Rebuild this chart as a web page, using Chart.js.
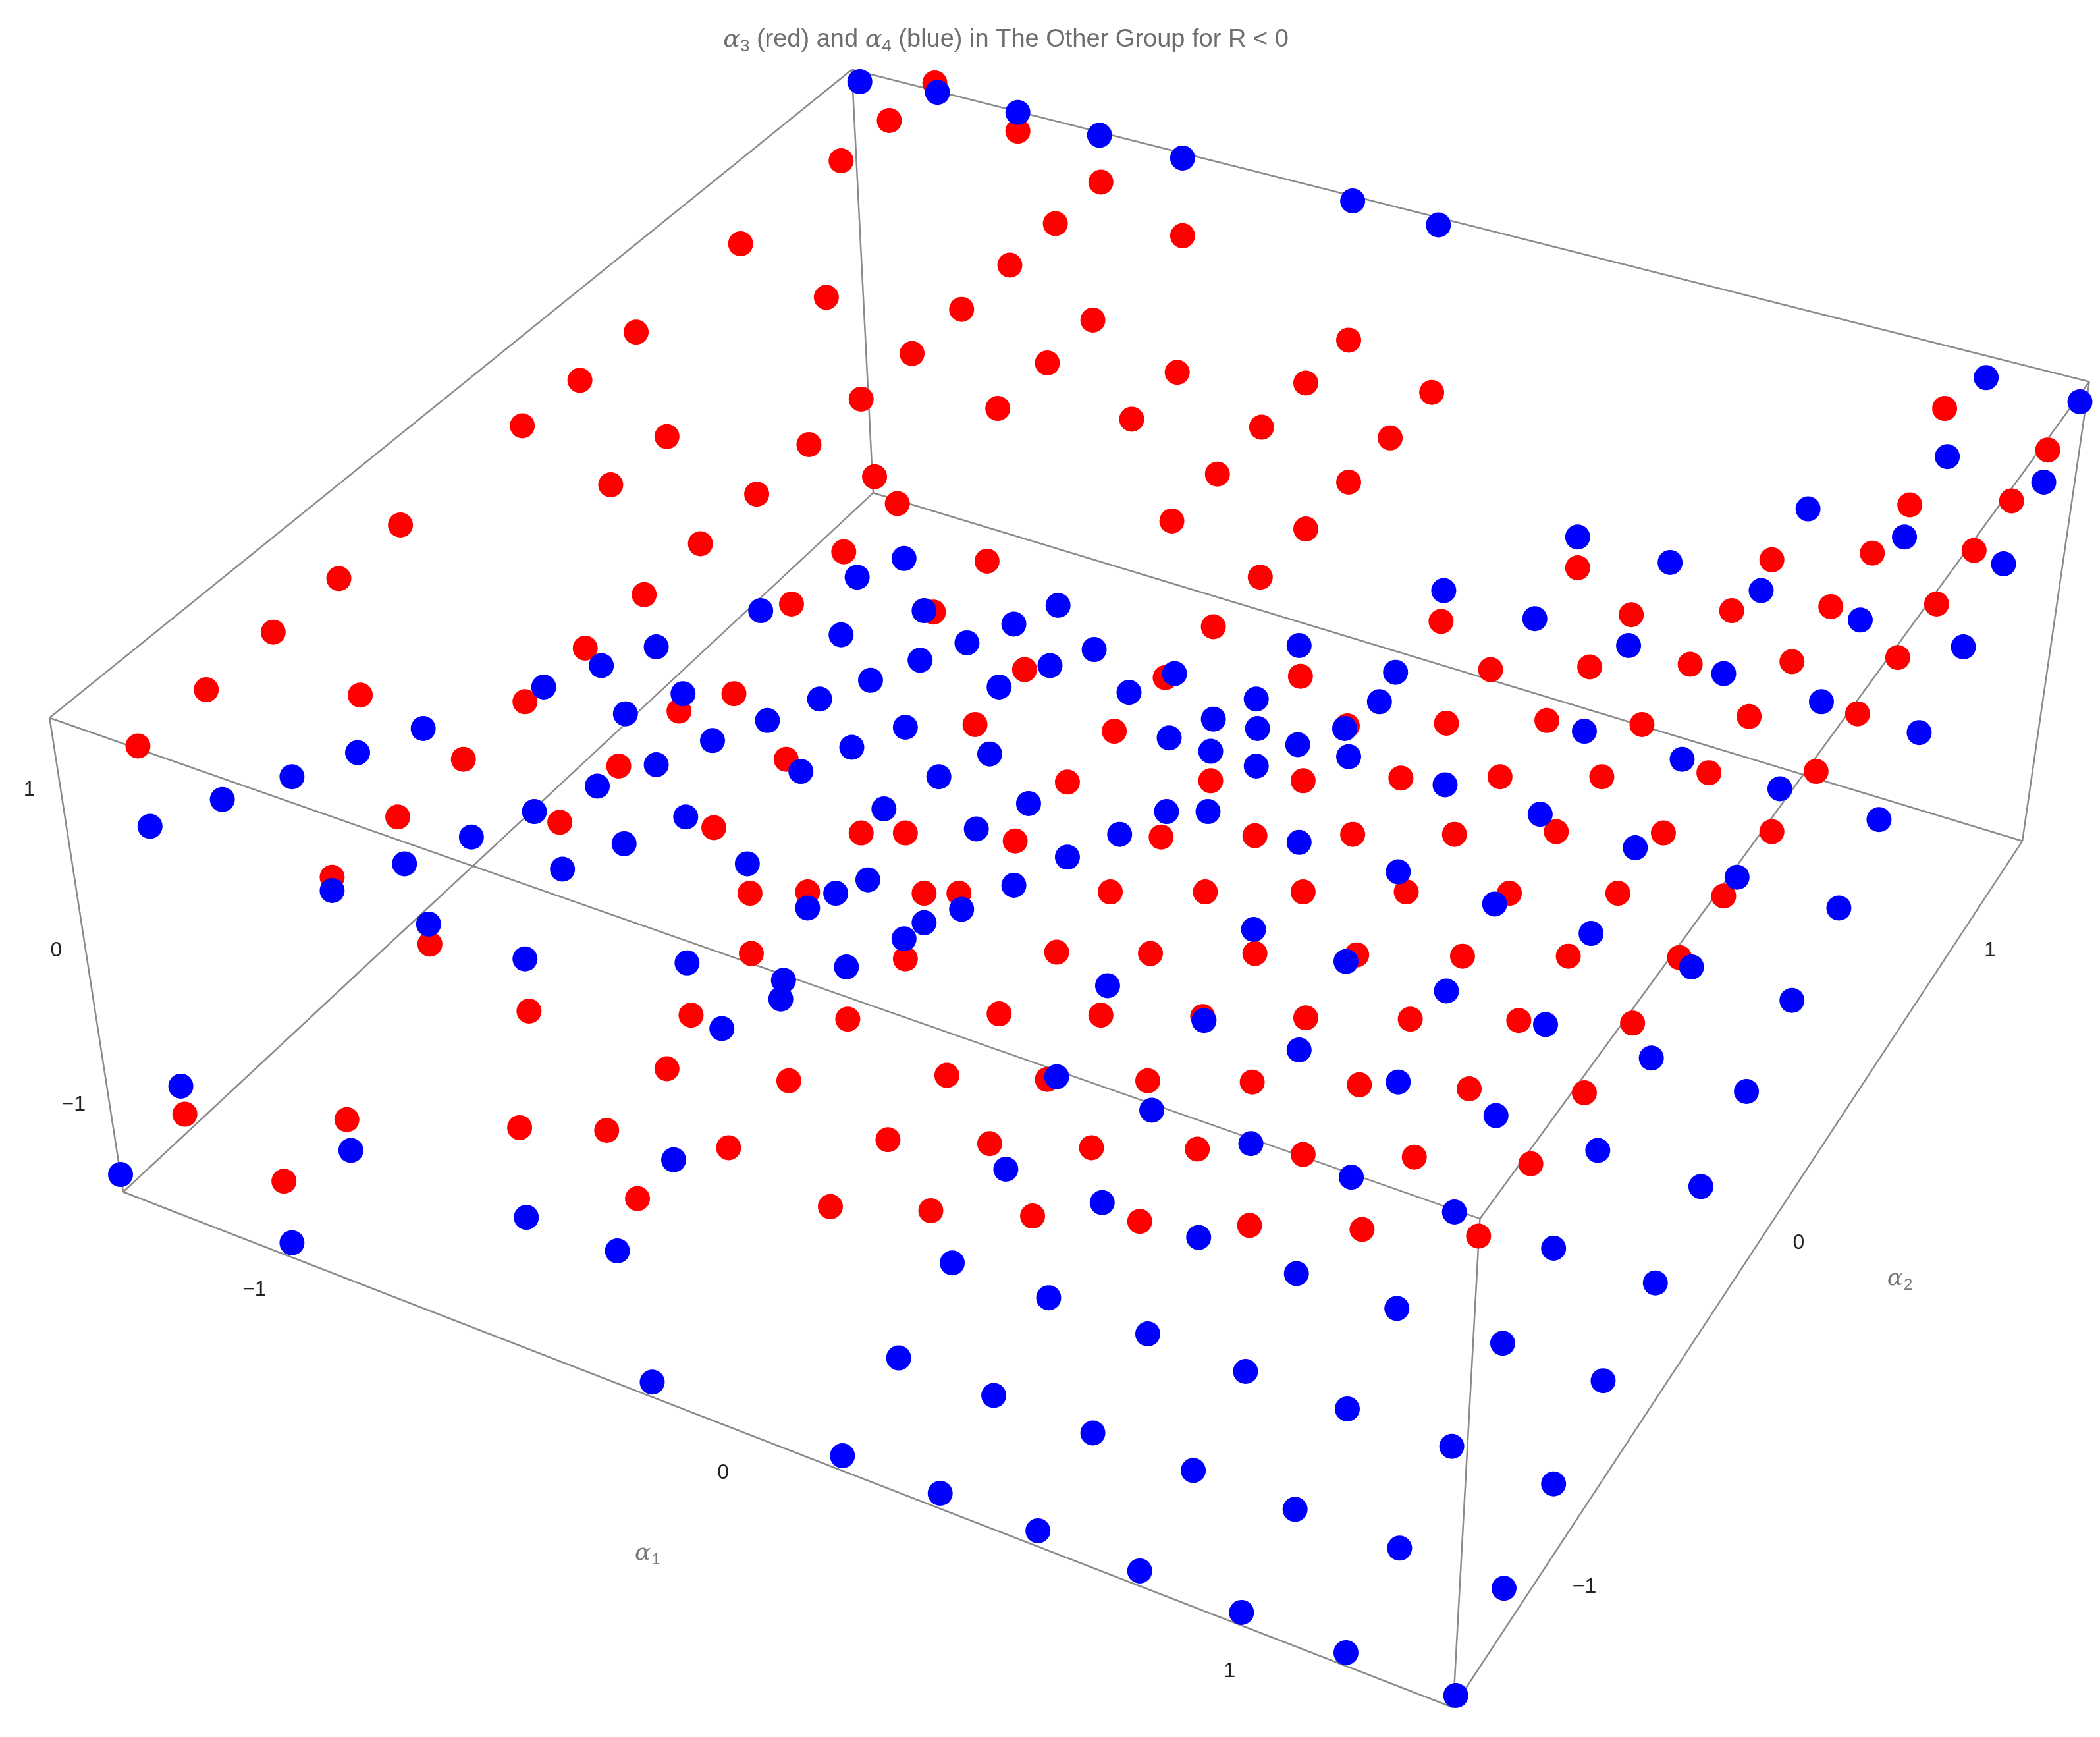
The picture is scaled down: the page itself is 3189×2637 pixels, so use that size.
<!DOCTYPE html>
<html><head><meta charset="utf-8">
<script src="https://cdn.jsdelivr.net/npm/chart.js@4"></script>
<style>html,body{margin:0;padding:0;background:#fff;overflow:hidden}</style>
</head><body>
<canvas id="c" width="3189" height="2637"></canvas>
<script>
// Projected positions of the 3D points (picture units, 1568 x 1297 view)
const redPoints = [[664,90],[698,62],[760,98],[628,120],[822,136],[553,182],[788,167],[883,176],[754,198],[617,222],[718,231],[816,239],[475,248],[681,264],[782,271],[1007,254],[879,278],[433,284],[975,286],[1069,293],[643,298],[745,305],[845,313],[942,319],[390,318],[498,326],[1038,327],[604,332],[909,354],[1007,360],[456,362],[653,356],[299,392],[565,369],[670,376],[875,389],[975,395],[523,406],[941,431],[253,432],[630,412],[737,419],[481,444],[591,451],[697,457],[204,472],[906,468],[1076,464],[437,484],[154,515],[548,518],[765,500],[870,506],[971,505],[1113,500],[269,519],[392,524],[507,531],[728,541],[832,546],[1006,542],[1080,540],[1155,538],[1226,541],[1187,498],[1262,496],[1178,424],[1218,459],[1293,456],[1323,418],[1338,494],[1367,453],[1398,413],[1426,377],[1417,491],[1446,451],[1474,411],[1502,374],[1529,336],[1452,305],[103,557],[346,567],[462,572],[587,567],[904,583],[797,584],[973,583],[1046,581],[1120,580],[1196,580],[1276,577],[1356,576],[1387,533],[1306,535],[297,610],[418,614],[533,618],[643,622],[676,622],[758,628],[867,625],[937,624],[1010,623],[1086,623],[1162,621],[1242,622],[1323,621],[248,655],[560,667],[603,666],[690,667],[716,667],[829,666],[900,666],[973,666],[1050,666],[1127,667],[1208,667],[1287,669],[321,705],[561,712],[676,716],[789,711],[859,712],[937,712],[1013,713],[1092,714],[1171,714],[1254,715],[395,755],[516,758],[633,761],[746,757],[822,758],[898,759],[975,760],[1053,761],[1134,762],[1219,764],[498,798],[707,803],[782,806],[857,807],[935,808],[1015,810],[1097,813],[1183,816],[589,807],[138,832],[259,836],[388,842],[453,844],[544,857],[663,851],[739,854],[815,857],[894,858],[973,862],[1056,864],[1143,869],[212,882],[476,895],[620,901],[695,904],[771,908],[851,912],[933,915],[1017,918],[1104,923]];
const bluePoints = [[642,61],[700,69],[760,84],[821,101],[883,118],[1010,150],[1074,168],[1483,282],[1553,300],[1526,360],[1454,341],[1350,380],[1422,401],[1496,421],[1247,420],[1178,401],[1389,463],[1466,483],[1433,547],[1315,441],[1360,524],[1078,441],[1146,462],[1216,482],[1287,503],[675,417],[640,431],[568,456],[790,452],[757,466],[690,456],[628,474],[722,480],[449,497],[490,483],[406,513],[687,493],[817,485],[784,497],[746,513],[650,508],[843,517],[877,503],[970,482],[1042,502],[1030,524],[938,522],[906,537],[1004,544],[612,522],[573,538],[510,518],[467,533],[532,553],[490,571],[446,587],[399,606],[316,544],[267,562],[218,580],[166,597],[112,617],[598,576],[636,558],[676,543],[739,563],[701,580],[873,551],[939,544],[969,556],[1007,565],[904,561],[938,572],[1079,586],[1183,546],[1256,567],[1329,589],[1403,612],[1373,678],[1297,655],[1221,633],[1150,608],[660,604],[768,600],[836,623],[871,606],[902,606],[970,629],[729,619],[512,610],[420,649],[466,630],[352,625],[302,645],[248,665],[558,645],[624,667],[648,657],[603,678],[718,679],[757,661],[797,640],[1044,651],[1116,675],[1188,697],[1263,722],[1338,747],[1304,815],[1233,790],[1154,765],[1080,740],[1005,718],[936,694],[690,689],[675,701],[585,732],[583,746],[632,722],[513,719],[392,716],[320,690],[539,768],[827,736],[899,762],[970,784],[1044,808],[1117,833],[1193,859],[1270,886],[1236,958],[1160,932],[1086,905],[1009,879],[934,854],[860,829],[789,804],[751,873],[823,898],[895,924],[968,951],[1043,977],[1122,1003],[1197,1031],[1160,1108],[1084,1080],[1006,1052],[930,1024],[857,996],[783,969],[711,943],[671,1014],[742,1042],[816,1070],[891,1098],[967,1127],[1045,1156],[1123,1186],[1087,1266],[1005,1234],[927,1204],[851,1173],[775,1143],[702,1115],[629,1087],[487,1032],[461,934],[393,909],[503,866],[218,928],[262,859],[135,811],[90,877]];
// Box edges (projected corners)
const boxEdges = [
 [[37,536],[636,52]],[[636,52],[1560,285]],[[1560,285],[1105,910]],[[1105,910],[37,536]],
 [[92,890],[652,368]],[[652,368],[1510,628]],[[1510,628],[1085,1275]],[[1085,1275],[92,890]],
 [[37,536],[92,890]],[[636,52],[652,368]],[[1560,285],[1510,628]],[[1105,910],[1085,1275]]
];
const zTickLabels = [["1",22,590],["0",42,710],["\u22121",55,825]];
const a1TickLabels = [["\u22121",190,963],["0",540,1100],["1",918,1248]];
const a2TickLabels = [["1",1486,710],["0",1343,928],["\u22121",1183,1185]];

const toXY = a => a.map(p => ({x:p[0], y:p[1]}));
const datasets = boxEdges.map(e => ({type:'line', data:toXY(e), borderColor:'#8a8a8a', borderWidth:2.5, pointRadius:0, fill:false, order:3}));
datasets.push({type:'scatter', data:toXY(redPoints), backgroundColor:'#ff0000', borderWidth:0, pointRadius:19, order:2});
datasets.push({type:'scatter', data:toXY(bluePoints), backgroundColor:'#0000ff', borderWidth:0, pointRadius:19, order:1});

const textPlugin = {id:'txt', afterDraw(ch){
  const c = ch.ctx, xs = ch.scales.x, ys = ch.scales.y;
  const P = (x,y)=>[xs.getPixelForValue(x), ys.getPixelForValue(y)];
  c.save(); c.textAlign='center'; c.textBaseline='middle';
  c.fillStyle='#222'; c.font='32px "Liberation Sans", Arial, sans-serif';
  [...zTickLabels, ...a1TickLabels, ...a2TickLabels].forEach(t=>{const [x,y]=P(t[1],t[2]); c.fillText(t[0],x,y);});
  c.fillStyle='#777';
  const sub=(main,s,x,y)=>{const [px,py]=P(x,y); c.textAlign='right'; c.font='italic 36px "DejaVu Serif", serif'; c.fillText(main,px,py); c.textAlign='left'; c.font='24px "Liberation Sans", sans-serif'; c.fillText(s,px+1,py+10); c.textAlign='center';};
  sub('\u03B1','1',486,1160); sub('\u03B1','2',1421,955);
  const [tx,ty]=P(540,30);
  c.textAlign='left'; c.fillStyle='#6e6e6e';
  let x=tx;
  const seg=(txt,font,dy)=>{c.font=font; c.fillText(txt,x,ty+(dy||0)); x+=c.measureText(txt).width;};
  const F='38px "Liberation Sans", Arial, sans-serif', S='26px "Liberation Sans", Arial, sans-serif', I='italic 38px "DejaVu Serif", serif';
  seg('\u03B1',I); seg('3',S,10); seg(' (red) and ',F); seg('\u03B1',I); seg('4',S,10); seg(' (blue) in The Other Group for R < 0',F);
  c.restore();
}};

new Chart(document.getElementById('c'), {
  data:{datasets},
  options:{responsive:false, devicePixelRatio:1, animation:false,
    layout:{padding:0, autoPadding:false},
    plugins:{legend:{display:false}, tooltip:{enabled:false}},
    scales:{
      x:{type:'linear', min:0, max:1568, display:false},
      y:{type:'linear', min:0, max:1297, reverse:true, display:false}
    }},
  plugins:[textPlugin]
});
</script>
</body></html>
